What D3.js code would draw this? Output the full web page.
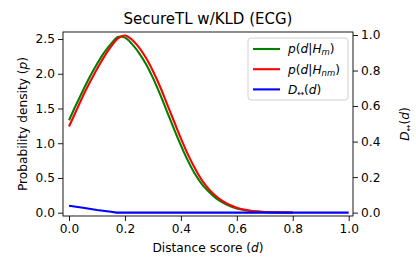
<!DOCTYPE html>
<html><head><meta charset="utf-8">
<script src="https://cdn.jsdelivr.net/npm/d3@7"></script>
<style>
body{margin:0;background:#fff;}
svg{display:block;font-family:"DejaVu Sans",sans-serif;}
</style></head>
<body>
<svg id="chart" width="416" height="271"></svg>
<script>
const dGrid = [0,0.025,0.05,0.075,0.1,0.125,0.15,0.175,0.2,0.225,0.25,0.275,0.3,0.325,0.35,0.375,0.4,0.425,0.45,0.475,0.5,0.525,0.55,0.575,0.6,0.625,0.65,0.675,0.7,0.75,0.8];
const pMatch = [1.33,1.55,1.76,1.96,2.14,2.30,2.43,2.53,2.52,2.43,2.30,2.14,1.94,1.71,1.46,1.21,0.97,0.75,0.56,0.41,0.30,0.21,0.145,0.095,0.062,0.04,0.025,0.015,0.009,0.003,0.001];
const pNonMatch = [1.24,1.46,1.68,1.88,2.07,2.24,2.39,2.51,2.55,2.49,2.38,2.23,2.04,1.82,1.57,1.32,1.07,0.84,0.64,0.47,0.34,0.24,0.165,0.11,0.072,0.046,0.029,0.018,0.011,0.004,0.001];
const dBlue = [0,0.05,0.1,0.15,0.17,0.25,0.5,0.75,1.0];
const dDiv = [0.039,0.027,0.015,0.005,0,0,0,0,0];
const xTicks = [0,0.2,0.4,0.6,0.8,1.0];
const yLeftTicks = [0,0.5,1.0,1.5,2.0,2.5];
const yRightTicks = [0,0.2,0.4,0.6,0.8,1.0];

const svg = d3.select("#chart");
const L=63,R=353,T=32,B=216;
const x = d3.scaleLinear().domain([-0.0215,1.0154]).range([L,R]);
const yL = d3.scaleLinear().domain([-0.0475,2.601]).range([B,T]);
const yR = d3.scaleLinear().domain([-0.019,1.017]).range([B,T]);
const fs = 12.2;

const gx = svg.append("g").attr("transform",`translate(0,${B})`)
  .call(d3.axisBottom(x).tickValues(xTicks).tickFormat(d3.format(".1f")).tickSize(5).tickPadding(3));
const gyl = svg.append("g").attr("transform",`translate(${L},0)`)
  .call(d3.axisLeft(yL).tickValues(yLeftTicks).tickFormat(d3.format(".1f")).tickSize(5).tickPadding(3));
const gyr = svg.append("g").attr("transform",`translate(${R},0)`)
  .call(d3.axisRight(yR).tickValues(yRightTicks).tickFormat(d3.format(".1f")).tickSize(5).tickPadding(3));
[gx,gyl,gyr].forEach(g=>{
  g.select(".domain").remove();
  g.selectAll("line").attr("stroke","#000").attr("stroke-width",0.9);
  g.selectAll("text").attr("font-size",fs).attr("font-family","DejaVu Sans").attr("fill","#000");
});

const line = (xs,ys,sc)=>d3.line().x((d,i)=>x(xs[i])).y((d,i)=>sc(ys[i])).curve(d3.curveCatmullRom)(ys);
svg.append("path").attr("d",line(dGrid,pMatch,yL)).attr("fill","none").attr("stroke","#008000").attr("stroke-width",2.1);
svg.append("path").attr("d",line(dGrid,pNonMatch,yL)).attr("fill","none").attr("stroke","#ff0000").attr("stroke-width",2.1);
svg.append("path").attr("d",d3.line().x((d,i)=>x(dBlue[i])).y(d=>yR(d))(dDiv)).attr("fill","none").attr("stroke","#0000ff").attr("stroke-width",2.1);

svg.append("rect").attr("x",L).attr("y",T).attr("width",R-L).attr("height",B-T).attr("fill","none").attr("stroke","#000").attr("stroke-width",0.9);

svg.append("text").attr("x",(L+R)/2).attr("y",24).attr("text-anchor","middle").attr("font-size",15).text("SecureTL w/KLD (ECG)");
const xl = svg.append("text").attr("x",(L+R)/2).attr("y",252).attr("text-anchor","middle").attr("font-size",fs);
xl.append("tspan").text("Distance score (");
xl.append("tspan").attr("font-style","italic").text("d");
xl.append("tspan").text(")");
const yl = svg.append("text").attr("transform",`translate(27,${(T+B)/2}) rotate(-90)`).attr("text-anchor","middle").attr("font-size",fs);
yl.append("tspan").text("Probability density (");
yl.append("tspan").attr("font-style","italic").text("p");
yl.append("tspan").text(")");
const yr = svg.append("text").attr("transform",`translate(409,${(T+B)/2}) rotate(-90)`).attr("text-anchor","middle").attr("font-size",fs);
yr.append("tspan").attr("font-style","italic").text("D");
yr.append("tspan").attr("font-size",8).attr("dy",2).text("↔");
yr.append("tspan").attr("dy",-2).text("(");
yr.append("tspan").attr("font-style","italic").text("d");
yr.append("tspan").text(")");

const lg = svg.append("g");
lg.append("rect").attr("x",248).attr("y",38).attr("width",100).attr("height",62).attr("rx",3)
  .attr("fill","#fff").attr("fill-opacity",0.8).attr("stroke","#cccccc").attr("stroke-width",0.9);
const items = [
  {c:"#008000", sub:"m"},
  {c:"#ff0000", sub:"nm"},
  {c:"#0000ff", sub:null}
];
items.forEach((it,i)=>{
  const yy = 49 + i*20.2;
  lg.append("line").attr("x1",253).attr("x2",280).attr("y1",yy).attr("y2",yy).attr("stroke",it.c).attr("stroke-width",2.1);
  const t = lg.append("text").attr("x",288).attr("y",yy+4.3).attr("font-size",fs);
  if(it.sub){
    t.append("tspan").attr("font-style","italic").text("p");
    t.append("tspan").text("(");
    t.append("tspan").attr("font-style","italic").text("d");
    t.append("tspan").text("|");
    t.append("tspan").attr("font-style","italic").text("H");
    t.append("tspan").attr("font-style","italic").attr("font-size",8.5).attr("dy",2).text(it.sub);
    t.append("tspan").attr("dy",-2).text(")");
  } else {
    t.append("tspan").attr("font-style","italic").text("D");
    t.append("tspan").attr("font-size",8).attr("dy",2).text("↔");
    t.append("tspan").attr("dy",-2).text("(");
    t.append("tspan").attr("font-style","italic").text("d");
    t.append("tspan").text(")");
  }
});
</script>
</body></html>
